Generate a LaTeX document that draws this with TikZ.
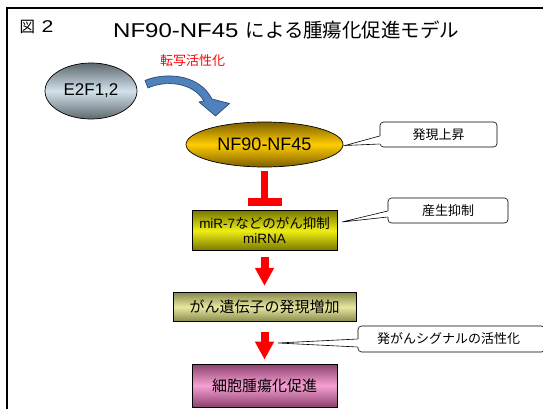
\documentclass[tikz,border=0pt]{standalone}
\usepackage{fontspec}
\setmainfont{Liberation Sans}
\newfontfamily\jp{Noto Sans CJK JP}
\usetikzlibrary{shapes.geometric,arrows.meta,calc}
\definecolor{egrey}{RGB}{95,105,110}
\definecolor{elight}{RGB}{210,226,236}
\definecolor{gdark}{RGB}{125,95,0}
\definecolor{gmid}{RGB}{255,204,0}
\definecolor{ydark}{RGB}{120,120,0}
\definecolor{ymid}{RGB}{238,238,20}
\definecolor{kdark}{RGB}{135,135,75}
\definecolor{kmid}{RGB}{232,232,160}
\definecolor{pdark}{RGB}{140,65,110}
\definecolor{pmid}{RGB}{245,160,210}
\definecolor{bfill}{RGB}{79,129,189}
\definecolor{bline}{RGB}{45,75,115}
\tikzset{
  fs/.style={font=\fontsize{#1}{#1}\selectfont},
  ell/.style={ellipse, draw=black, line width=0.7pt, inner sep=0pt},
  sbox/.style={rectangle, draw=black, line width=0.8pt, inner sep=0pt, align=center},
  callbox/.style={rectangle, rounded corners=3.5pt, draw=black, line width=0.6pt, fill=white, inner sep=0pt, fs=13},
  ptr/.style={draw=black, line width=0.6pt},
  redarrow/.style={draw=red, line width=8pt, -{Triangle[length=18pt,width=18pt]}},
  inhib/.style={draw=red, line width=7pt, -{Rectangle[length=8pt,width=34pt]}},
}
\begin{document}
\begin{tikzpicture}[x=1pt,y=-1pt]
\useasboundingbox (0,0) rectangle (543,409);
\clip (0,0) rectangle (543,409);
% frame
\draw[line width=2pt] (7.3,8.3) rectangle (600,450);
% titles
\node[anchor=west, inner sep=0pt, fs=15.5] (fig) at (19.5,26.5) {{\jp 図}\hspace{6.5pt}{\fontsize{17}{17}\selectfont\addfontfeature{FakeStretch=1.25}2}};
\node[anchor=west, inner sep=0pt] (title) at (113,30)
  {{\fontsize{20}{24}\selectfont\addfontfeature{FakeStretch=1.2}NF90-NF45}\hspace{7pt}{\jp\fontsize{19.5}{24}\selectfont による腫瘍化促進モデル}};
% nodes
\node[ell, minimum width=92pt, minimum height=56pt, top color=egrey, bottom color=egrey, middle color=elight, fs=17] (e2f) at (91,91) {E2F1,2};
\node[ell, minimum width=157pt, minimum height=45pt, top color=gdark, bottom color=gdark, middle color=gmid, fs=18] (nf) at (264.5,144.5) {NF90-NF45};
\node[sbox, minimum width=145pt, minimum height=40pt, top color=ydark, bottom color=ydark, middle color=ymid, font=\fontsize{13.5}{15.5}\selectfont] (mir) at (264.5,230.5)
  {miR-7{\jp などのがん抑制}\\miRNA};
\node[sbox, minimum width=183pt, minimum height=29.5pt, top color=kdark, bottom color=kdark, middle color=kmid, fs=15] (gene) at (264.5,307) {\jp がん遺伝子の発現増加};
\node[sbox, minimum width=145pt, minimum height=43pt, top color=pdark, bottom color=pdark, middle color=pmid, fs=15] (cell) at (264.5,385.5) {\jp 細胞腫瘍化促進};
% label
\node[text=red, inner sep=0pt, fs=13] (tlab) at (192.5,61) {\jp 転写活性化};
% blue curved arrow
\filldraw[fill=bfill, draw=bline, line width=0.7pt, line join=round]
  (145,80.5) .. controls (162,73) and (198,72) .. (212,99)
  -- (229.5,103.5) -- (215.5,116) -- (199,102) -- (204,101)
  .. controls (193,82) and (165,80) .. (148,88) -- cycle;
% connectors
\draw[inhib, shorten <=4pt, shorten >=4pt] (nf.south) -- (mir.north);
\draw[redarrow, shorten <=6.5pt, shorten >=6pt] (mir.south) -- (gene.north);
\draw[redarrow, shorten <=10pt, shorten >=4pt] (gene.south) -- (cell.north);
% callouts
\node[callbox, minimum width=117pt, minimum height=25pt] (c1) at (438.5,134.5) {\jp 発現上昇};
\node[callbox, minimum width=120pt, minimum height=25pt] (c2) at (448,210.5) {\jp 産生抑制};
\node[callbox, minimum width=187pt, minimum height=26pt, text width=187pt, align=left] (c3) at (451.5,339) {\hspace{19pt}\jp 発がんシグナルの活性化};
\coordinate (t1) at (345,145.5);
\coordinate (t2) at (342,222);
\coordinate (t3) at (278,343);
\coordinate (a1) at ($(c1.west)+(0,1.5)$);
\coordinate (b1) at ($(c1.west)+(0,9.5)$);
\coordinate (a2) at ($(c2.west)+(0,0.5)$);
\coordinate (b2) at ($(c2.west)+(0,6.5)$);
\coordinate (a3) at ($(c3.west)+(0,0)$);
\coordinate (b3) at ($(c3.west)+(0,8)$);
\foreach \i in {1,2,3}{
  \fill[white] (a\i) -- (t\i) -- (b\i) -- ($(b\i)+(2,0)$) -- ($(a\i)+(2,0)$) -- cycle;
  \draw[ptr] (a\i) -- (t\i) -- (b\i);
}
\end{tikzpicture}
\end{document}
